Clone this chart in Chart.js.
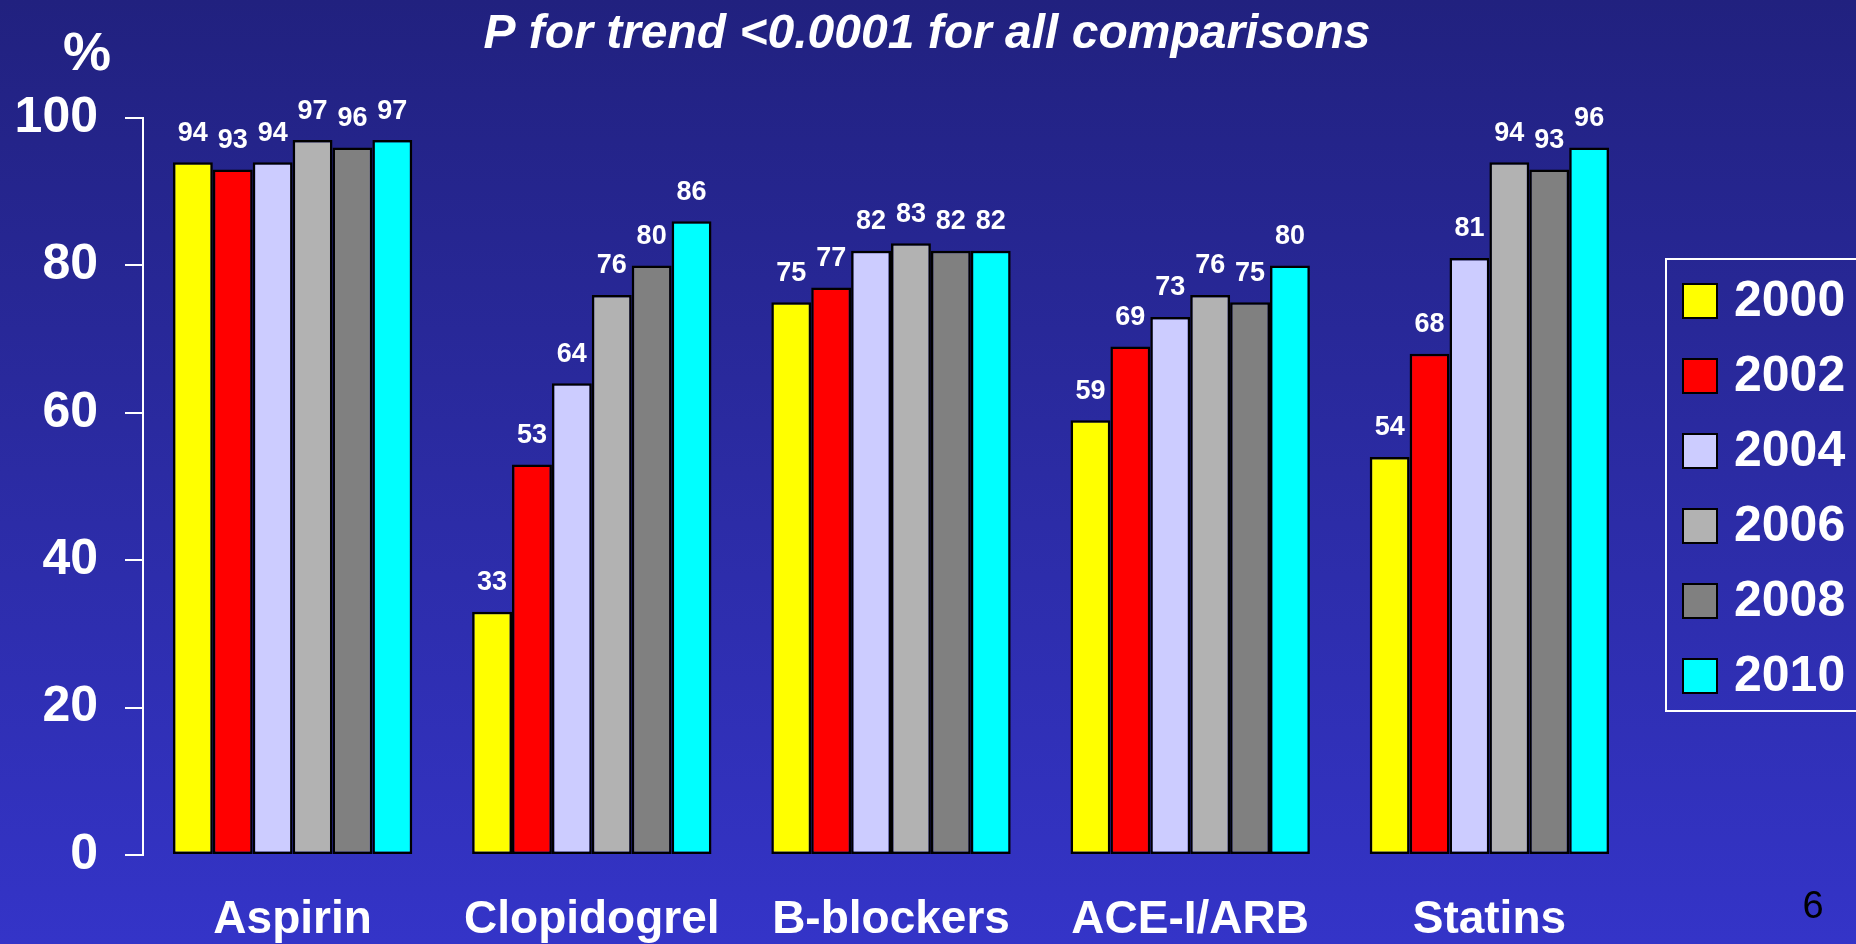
<!DOCTYPE html>
<html>
<head>
<meta charset="utf-8">
<script src="https://cdn.jsdelivr.net/npm/chart.js@4"></script>
<style>
  html, body { margin: 0; padding: 0; }
  body {
    width: 1856px; height: 944px; overflow: hidden;
    background: linear-gradient(to bottom, #21217f 0%, #2b2ba3 50%, #3434c8 100%);
  }
  #wrap { position: relative; width: 1856px; height: 944px; }
</style>
</head>
<body>
<div id="wrap"><canvas id="chart" width="1856" height="944"></canvas></div>
<script>
var categories = ['Aspirin', 'Clopidogrel', 'B-blockers', 'ACE-I/ARB', 'Statins'];
var years = ['2000', '2002', '2004', '2006', '2008', '2010'];
var colors = ['#ffff00', '#ff0000', '#ccccff', '#b2b2b2', '#808080', '#00ffff'];

var y2000 = [94, 33, 75, 59, 54];
var y2002 = [93, 53, 77, 69, 68];
var y2004 = [94, 64, 82, 73, 81];
var y2006 = [97, 76, 83, 76, 94];
var y2008 = [96, 80, 82, 75, 93];
var y2010 = [97, 86, 82, 80, 96];
var series = [y2000, y2002, y2004, y2006, y2008, y2010];

var yTicks = [0, 20, 40, 60, 80, 100];

var titleText = 'P for trend <0.0001 for all comparisons';
var FONT = '"Liberation Sans", Arial, sans-serif';

// value labels above bars
var valueLabels = {
    id: 'valueLabels',
    afterDatasetsDraw: function(chart) {
        var ctx = chart.ctx;
        ctx.save();
        ctx.fillStyle = '#ffffff';
        ctx.font = 'bold 27px ' + FONT;
        ctx.textAlign = 'center';
        ctx.textBaseline = 'middle';
        chart.data.datasets.forEach(function(ds, i) {
            chart.getDatasetMeta(i).data.forEach(function(bar, j) {
                ctx.fillText(ds.data[j], bar.x, bar.y - 29);
            });
        });
        ctx.restore();
    }
};

// title, boxed legend on the right, "%" label and page number
var extras = {
    id: 'extras',
    afterDraw: function(chart) {
        var ctx = chart.ctx;
        ctx.save();
        ctx.textBaseline = 'middle';

        ctx.fillStyle = '#ffffff';
        ctx.font = 'italic bold 48px ' + FONT;
        ctx.textAlign = 'center';
        ctx.fillText(titleText, 927, 35);

        ctx.strokeStyle = '#ffffff';
        ctx.lineWidth = 2;
        ctx.strokeRect(1666, 259, 260, 452);
        chart.data.datasets.forEach(function(ds, i) {
            var cy = 301 + i * 75;
            ctx.fillStyle = ds.backgroundColor;
            ctx.fillRect(1683, cy - 17, 34, 34);
            ctx.strokeStyle = '#000000';
            ctx.lineWidth = 2;
            ctx.strokeRect(1683, cy - 17, 34, 34);
            ctx.fillStyle = '#ffffff';
            ctx.font = 'bold 50px ' + FONT;
            ctx.textAlign = 'left';
            ctx.fillText(ds.label, 1734, cy + 1);
        });

        ctx.fillStyle = '#ffffff';
        ctx.font = 'bold 54px ' + FONT;
        ctx.textAlign = 'center';
        ctx.fillText('%', 87, 55);

        ctx.fillStyle = '#000000';
        ctx.font = '38px ' + FONT;
        ctx.fillText('6', 1813, 908);
        ctx.restore();
    }
};

var ctx = document.getElementById('chart').getContext('2d');

var myChart = new Chart(ctx, {
    type: 'bar',
    data: {
        labels: categories,
        datasets: years.map(function(y, i) {
            return {
                label: y,
                data: series[i],
                backgroundColor: colors[i],
                borderColor: '#000000',
                borderWidth: 2.5,
                borderSkipped: false,
                categoryPercentage: 0.8,
                barPercentage: 1.0
            };
        })
    },
    options: {
        responsive: false,
        animation: false,
        layout: { padding: { left: 15, right: 217, top: 118, bottom: 1 } },
        plugins: {
            legend: { display: false },
            tooltip: { enabled: false },
            title: { display: false }
        },
        scales: {
            x: {
                afterFit: function(s) { s.height = 88; },
                grid: { display: false, drawTicks: false },
                border: { display: false },
                ticks: {
                    color: '#ffffff',
                    padding: 42,
                    maxRotation: 0,
                    minRotation: 0,
                    autoSkip: false,
                    font: { family: FONT, size: 46, weight: 'bold', lineHeight: 1 }
                }
            },
            y: {
                min: 0,
                max: 100,
                afterFit: function(s) { s.width = 128; },
                afterBuildTicks: function(s) {
                    s.ticks = yTicks.map(function(v) { return { value: v }; });
                },
                grid: {
                    drawOnChartArea: false,
                    drawTicks: true,
                    tickLength: 18,
                    color: '#ffffff',
                    lineWidth: 2
                },
                border: { display: true, color: '#ffffff', width: 2 },
                ticks: {
                    color: '#ffffff',
                    padding: 27,
                    font: { family: FONT, size: 50, weight: 'bold', lineHeight: 1 }
                }
            }
        }
    },
    plugins: [valueLabels, extras]
});
</script>
</body>
</html>
